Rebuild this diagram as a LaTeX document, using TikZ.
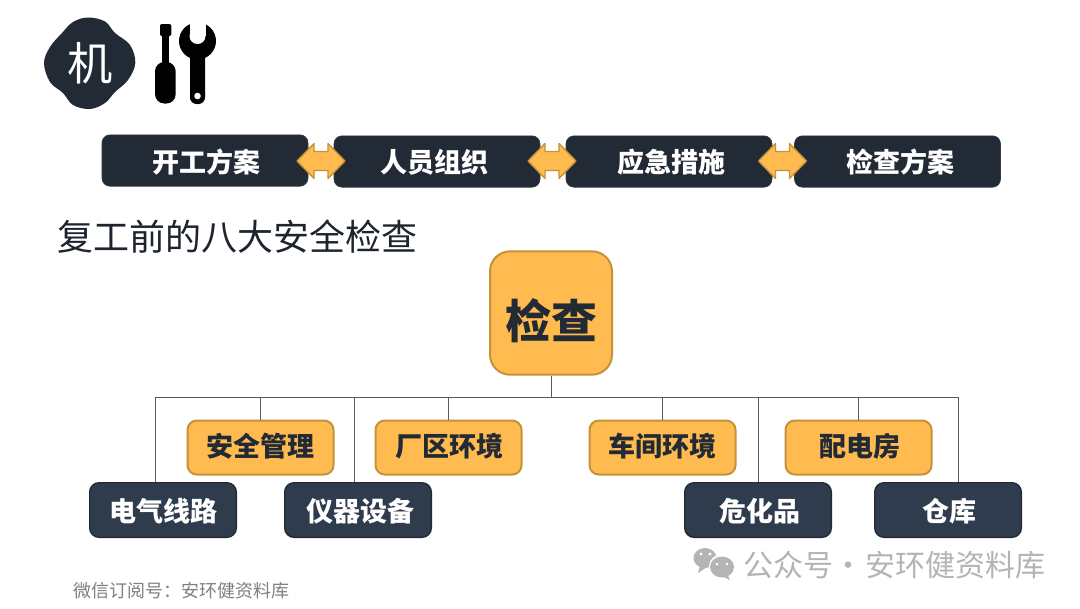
\documentclass[tikz,border=0pt]{standalone}
\usepackage{fontspec}
\setmainfont{Noto Sans CJK SC}
\definecolor{darkA}{HTML}{222A36}
\definecolor{darkB}{HTML}{2F3C4E}
\definecolor{orangeF}{HTML}{FFBB4F}
\definecolor{orangeD}{HTML}{C49238}
\definecolor{wm}{HTML}{B4B4B4}
\newcommand\tx[2]{\makebox[0pt][c]{\hspace*{#1pt}#2}}
\newcommand\dblar[3]{\draw[dblarrow,shift={(#2,#3)}] (-24,0) -- (-7,-17.5) -- (-7,-9.5) -- (7,-9.5) -- (7,-17.5) -- (24,0) -- (7,17.5) -- (7,9.5) -- (-7,9.5) -- (-7,17.5) -- cycle coordinate (#1) at (0,0);}
\tikzset{
  topbox/.style={fill=darkA,draw=darkA!80!gray,line width=.5pt,rounded corners=6pt,minimum width=154.5pt,minimum height=38.5pt,inner sep=0pt,text=white,text height=17pt,text depth=0pt,font=\fontsize{20.25}{20}\selectfont\bfseries},
  orbox/.style={fill=orangeF,draw=orangeD,line width=1.5pt,rounded corners=7pt,minimum width=109.5pt,minimum height=40.5pt,inner sep=0pt,text=darkA,text height=14pt,text depth=0pt,font=\fontsize{20.25}{20}\selectfont\bfseries},
  dkbox/.style={fill=darkB,draw=darkA,line width=1pt,rounded corners=7pt,minimum width=110pt,minimum height=41pt,inner sep=0pt,text=white,text height=17.4pt,text depth=0pt,font=\fontsize{20.25}{20}\selectfont\bfseries},
  bigbox/.style={fill=orangeF,draw=orangeD,line width=1.5pt,rounded corners=15pt,minimum width=91.5pt,minimum height=92.5pt,inner sep=0pt,text=darkA,text height=38.4pt,text depth=0pt,font=\fontsize{34.5}{34}\selectfont\bfseries},
  dblarrow/.style={fill=orangeF,draw=orangeD,line width=1pt,line join=round},
  link/.style={draw=black!65,line width=.75pt},
}
\begin{document}
\begin{tikzpicture}[x=.75pt,y=-.75pt]
\useasboundingbox (0,0) rectangle (1080,608);
\fill[white] (0,0) rectangle (1080,608);
% blob
\fill[darkA] plot[smooth cycle,tension=.6] coordinates {(88,17.5)(105,21.5)(115,33)(130,45)(135.3,63)(128,80)(115,92)(105,103)(90,109)(73,105)(63,93)(50,82)(44,63)(50,47)(62,33)(73,22)};
\node[text=white,font=\fontsize{34}{34}\selectfont,inner sep=0pt] (ji) at (90,63) {机};
% screwdriver
\fill[black,rounded corners=1pt] (160,24) rectangle (171.3,36);
\fill[black] (161.7,34) rectangle (169.3,70);
\fill[black,rounded corners=7pt] (155,62) rectangle (175.7,103.5);
% wrench
\fill[black] (197.5,41) circle[radius=18.5];
\fill[black,rounded corners=5pt] (190,50) rectangle (205,104);
\fill[black] (197.5,96) circle[radius=7.5];
\fill[white] (189.5,15) rectangle (205.5,36);
\fill[white] (197.5,36) circle[radius=8];
\fill[white] (197.5,96) circle[radius=3.3];
% top row
\node[topbox,text height=17.6pt] (t1) at (205,160.5) {\tx{2.25}{开工方案}};
\node[topbox] (t2) at (437,161.5) {\tx{-4.5}{人员组织}};
\node[topbox] (t3) at (669,161.5) {\tx{3.75}{应急措施}};
\node[topbox] (t4) at (897.5,161.5) {\tx{3.75}{检查方案}};
\dblar{a1}{321}{161}
\dblar{a2}{552}{161}
\dblar{a3}{782.5}{161}
% title
\node[anchor=west,inner sep=0pt,text=darkA!85!black,font=\fontsize{27}{27}\selectfont\addfontfeatures{Weight=Light}] (title) at (57,237) {复工前的八大安全检查};
% chart
\node[bigbox] (top) at (551,313) {\tx{1}{检查}};
\node[orbox] (n1) at (260.5,447.5) {安全管理};
\node[orbox] (n2) at (448.5,447.5) {\tx{1.5}{厂区环境}};
\node[orbox] (n3) at (662.5,447.5) {车间环境};
\node[orbox] (n4) at (858.5,447.5) {\tx{1.5}{配电房}};
\node[dkbox] (m1) at (163,510) {电气线路};
\node[dkbox] (m2) at (358,510) {\tx{3}{仪器设备}};
\node[dkbox] (m3) at (758,510) {\tx{3}{危化品}};
\node[dkbox] (m4) at (948,510) {\tx{1.5}{仓库}};
\coordinate (busL) at (155,397);
\coordinate (busR) at (958,397);
\coordinate (b1) at (354,397);
\coordinate (b2) at (758,397);
\draw[link] (top.south) -- (top.south |- busL);
\draw[link] (busL) -- (busR);
\draw[link] (busL) -- (busL |- m1.north);
\draw[link] (b1) -- (b1 |- m2.north);
\draw[link] (b2) -- (b2 |- m3.north);
\draw[link] (busR) -- (busR |- m4.north);
\draw[link] (n1.north |- busL) -- (n1.north);
\draw[link] (n2.north |- busL) -- (n2.north);
\draw[link] (n3.north |- busL) -- (n3.north);
\draw[link] (n4.north |- busL) -- (n4.north);
% watermark
\fill[wm] (705,558) ellipse[x radius=11.5,y radius=10];
\fill[wm] (700,565) -- (698,573) -- (707,567) -- cycle;
\fill[white] (723,566) ellipse[x radius=14,y radius=12];
\fill[wm] (722,567) ellipse[x radius=12,y radius=10.5];
\fill[wm] (727,574) -- (730,580) -- (720,575) -- cycle;
\fill[white] (701,554) circle[radius=1.7] (710,554) circle[radius=1.7] (717,564) circle[radius=1.5] (727,564) circle[radius=1.5];
\node[anchor=west,inner sep=0pt,text=wm,font=\fontsize{22.5}{22}\selectfont\addfontfeatures{Weight=Light}] (wmt) at (743,565) {公众号·\hspace{2pt}安环健资料库};
\node[anchor=west,inner sep=0pt,text=black!50,font=\fontsize{13.5}{13.5}\selectfont\addfontfeatures{Weight=Light}] (foot) at (73,591) {微信订阅号：安环健资料库};
\end{tikzpicture}
\end{document}
